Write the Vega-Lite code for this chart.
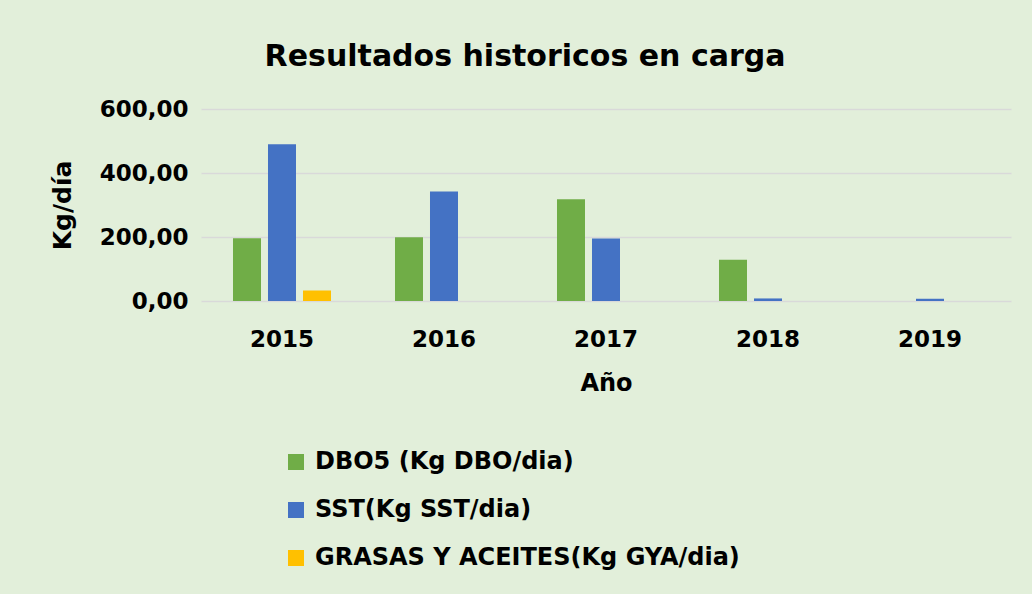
{
  "$schema": "https://vega.github.io/schema/vega-lite/v6.json",
  "autosize": {"type": "none"},
  "width": 810,
  "height": 192,
  "padding": {"left": 201, "top": 109, "right": 21, "bottom": 293},
  "background": "#E2EFDA",
  "title": {
    "text": "Resultados historicos en carga",
    "font": "DejaVu Sans",
    "fontSize": 30,
    "fontWeight": "bold",
    "color": "#000000",
    "anchor": "middle",
    "dx": -81,
    "offset": 26
  },
  "data": {
    "values": [
      {"anio": "2015", "serie": "DBO5 (Kg DBO/dia)", "valor": 196},
      {"anio": "2015", "serie": "SST(Kg SST/dia)", "valor": 490},
      {"anio": "2015", "serie": "GRASAS Y ACEITES(Kg GYA/dia)", "valor": 33},
      {"anio": "2016", "serie": "DBO5 (Kg DBO/dia)", "valor": 199},
      {"anio": "2016", "serie": "SST(Kg SST/dia)", "valor": 342},
      {"anio": "2016", "serie": "GRASAS Y ACEITES(Kg GYA/dia)", "valor": 0},
      {"anio": "2017", "serie": "DBO5 (Kg DBO/dia)", "valor": 318},
      {"anio": "2017", "serie": "SST(Kg SST/dia)", "valor": 195},
      {"anio": "2017", "serie": "GRASAS Y ACEITES(Kg GYA/dia)", "valor": 0},
      {"anio": "2018", "serie": "DBO5 (Kg DBO/dia)", "valor": 129},
      {"anio": "2018", "serie": "SST(Kg SST/dia)", "valor": 8},
      {"anio": "2018", "serie": "GRASAS Y ACEITES(Kg GYA/dia)", "valor": 0},
      {"anio": "2019", "serie": "DBO5 (Kg DBO/dia)", "valor": 0},
      {"anio": "2019", "serie": "SST(Kg SST/dia)", "valor": 7},
      {"anio": "2019", "serie": "GRASAS Y ACEITES(Kg GYA/dia)", "valor": 0}
    ]
  },
  "mark": {"type": "bar"},
  "encoding": {
    "x": {
      "field": "anio",
      "type": "nominal",
      "scale": {"paddingInner": 0.395, "paddingOuter": 0.1975},
      "axis": {
        "title": "Año",
        "labelAngle": 0,
        "labelFont": "DejaVu Sans",
        "labelFontSize": 23,
        "labelFontWeight": "bold",
        "labelColor": "#000000",
        "labelPadding": 27,
        "titleFont": "DejaVu Sans",
        "titleFontSize": 24,
        "titleFontWeight": "bold",
        "titleColor": "#000000",
        "titlePadding": 20,
        "domain": false,
        "ticks": false
      }
    },
    "xOffset": {
      "field": "serie",
      "type": "nominal",
      "sort": ["DBO5 (Kg DBO/dia)", "SST(Kg SST/dia)", "GRASAS Y ACEITES(Kg GYA/dia)"],
      "scale": {"paddingInner": 0.2, "paddingOuter": 0}
    },
    "y": {
      "field": "valor",
      "type": "quantitative",
      "scale": {"domain": [0, 600]},
      "axis": {
        "title": "Kg/día",
        "values": [0, 200, 400, 600],
        "labelExpr": "replace(format(datum.value, '.2f'), '.', ',')",
        "labelFont": "DejaVu Sans",
        "labelFontSize": 23,
        "labelFontWeight": "bold",
        "labelColor": "#000000",
        "labelPadding": 13,
        "titleFont": "DejaVu Sans",
        "titleFontSize": 25,
        "titleFontWeight": "bold",
        "titleColor": "#000000",
        "titlePadding": 24,
        "domain": false,
        "ticks": false,
        "grid": true,
        "gridColor": "#D9D9D9",
        "gridWidth": 1.5
      }
    },
    "color": {
      "field": "serie",
      "type": "nominal",
      "sort": ["DBO5 (Kg DBO/dia)", "SST(Kg SST/dia)", "GRASAS Y ACEITES(Kg GYA/dia)"],
      "scale": {
        "domain": ["DBO5 (Kg DBO/dia)", "SST(Kg SST/dia)", "GRASAS Y ACEITES(Kg GYA/dia)"],
        "range": ["#70AD47", "#4472C4", "#FFC000"]
      },
      "legend": {
        "title": null,
        "orient": "none",
        "legendX": 83,
        "legendY": 341,
        "direction": "vertical",
        "symbolType": "square",
        "symbolSize": 256,
        "symbolStrokeWidth": 0,
        "labelFont": "DejaVu Sans",
        "labelFontSize": 24,
        "labelFontWeight": "bold",
        "labelColor": "#000000",
        "labelLimit": 700,
        "labelOffset": 7,
        "rowPadding": 24
      }
    }
  },
  "config": {"view": {"stroke": null}}
}
